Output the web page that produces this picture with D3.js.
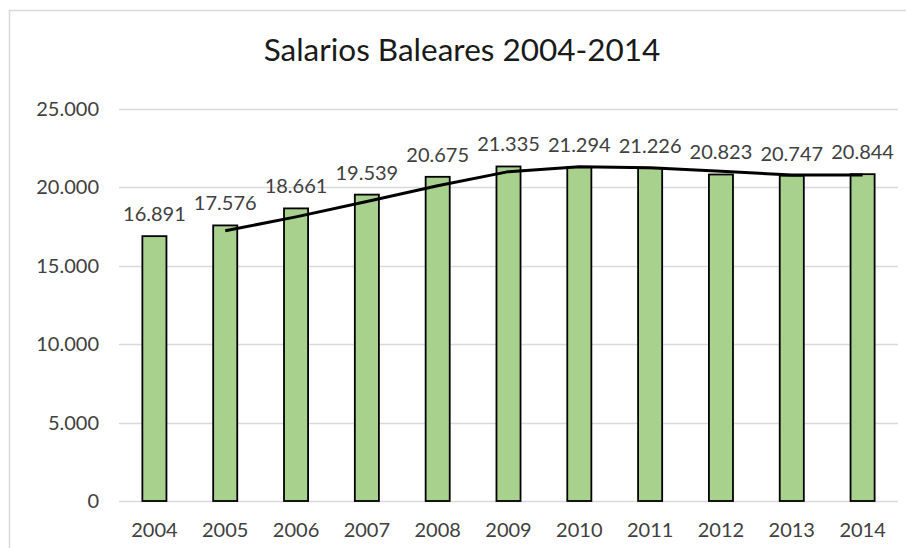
<!DOCTYPE html>
<html>
<head>
<meta charset="utf-8">
<script src="https://cdn.jsdelivr.net/npm/d3@7"></script>
<style>
  body { margin: 0; background: #fff; }
  svg { font-family: Lato, "Open Sans", sans-serif; }
</style>
</head>
<body>
<div id="chart"></div>
<script>
// data
const years = ['2004', '2005', '2006', '2007', '2008', '2009', '2010', '2011', '2012', '2013', '2014'];
const salaries = [16891, 17576, 18661, 19539, 20675, 21335, 21294, 21226, 20823, 20747, 20844];
// trend line (2 period moving average as drawn), starts at 2005
const trend = [null, 17234, 18119, 19100, 20107, 21005, 21315, 21260, 21025, 20785, 20796];
const yTicks = [0, 5000, 10000, 15000, 20000, 25000];

const fmt = d3.formatLocale({decimal: ',', thousands: '.', grouping: [3], currency: ['', '€']}).format(',');

const W = 906, H = 548;
const svg = d3.select('#chart').append('svg').attr('width', W).attr('height', H);

// chart area border (left + top, the rest is cropped)
svg.append('path')
    .attr('d', `M9.5,${H} V10.5 H${W}`)
    .attr('fill', 'none')
    .attr('stroke', '#d9d9d9')
    .attr('stroke-width', 1.5);

svg.append('text')
    .attr('x', 462)
    .attr('y', 61)
    .attr('text-anchor', 'middle')
    .style('font-size', '31.5px')
    .style('fill', '#1a1a1a')
    .text('Salarios Baleares 2004-2014');

const x = d3.scaleBand().domain(years).range([119, 898]).paddingInner(0.66).paddingOuter(0.33);
const y = d3.scaleLinear().domain([0, 25000]).range([501, 109]);

// gridlines
svg.append('g')
    .selectAll('line')
    .data(yTicks)
    .enter().append('line')
    .attr('x1', 119).attr('x2', 898)
    .attr('y1', d => Math.round(y(d)) + 0.5)
    .attr('y2', d => Math.round(y(d)) + 0.5)
    .attr('stroke', '#d9d9d9')
    .attr('stroke-width', 1.5);

// y axis labels
const yAxis = svg.append('g')
    .attr('transform', 'translate(119,0)')
    .call(d3.axisLeft(y).tickValues(yTicks).tickFormat(fmt).tickSize(0).tickPadding(20));
yAxis.select('.domain').remove();
yAxis.selectAll('text').style('font-size', '20px').style('font-family', 'Lato, sans-serif').style('fill', '#404040');

// x axis labels
const xAxis = svg.append('g')
    .attr('transform', 'translate(0,501)')
    .call(d3.axisBottom(x).tickSize(0).tickPadding(22));
xAxis.select('.domain').remove();
xAxis.selectAll('text').style('font-size', '20px').style('font-family', 'Lato, sans-serif').style('fill', '#404040');

// bars
svg.selectAll('.bar')
    .data(salaries)
    .enter().append('rect')
    .attr('class', 'bar')
    .attr('x', (d, i) => x(years[i]))
    .attr('y', d => y(d))
    .attr('width', x.bandwidth())
    .attr('height', d => y(0) - y(d))
    .attr('fill', '#a9d18e')
    .attr('stroke', '#000')
    .attr('stroke-width', 1.8);

// trend line
const line = d3.line()
    .defined(d => d != null)
    .x((d, i) => x(years[i]) + x.bandwidth() / 2)
    .y(d => y(d))
    .curve(d3.curveLinear);

svg.append('path')
    .datum(trend)
    .attr('d', line)
    .attr('fill', 'none')
    .attr('stroke', '#000')
    .attr('stroke-width', 3)
    .attr('stroke-linejoin', 'round');

// value labels
svg.selectAll('.label')
    .data(salaries)
    .enter().append('text')
    .attr('class', 'label')
    .attr('x', (d, i) => x(years[i]) + x.bandwidth() / 2)
    .attr('y', d => y(d) - 15)
    .attr('text-anchor', 'middle')
    .style('font-size', '20px')
    .style('fill', '#404040')
    .text(d => fmt(d));
</script>
</body>
</html>
